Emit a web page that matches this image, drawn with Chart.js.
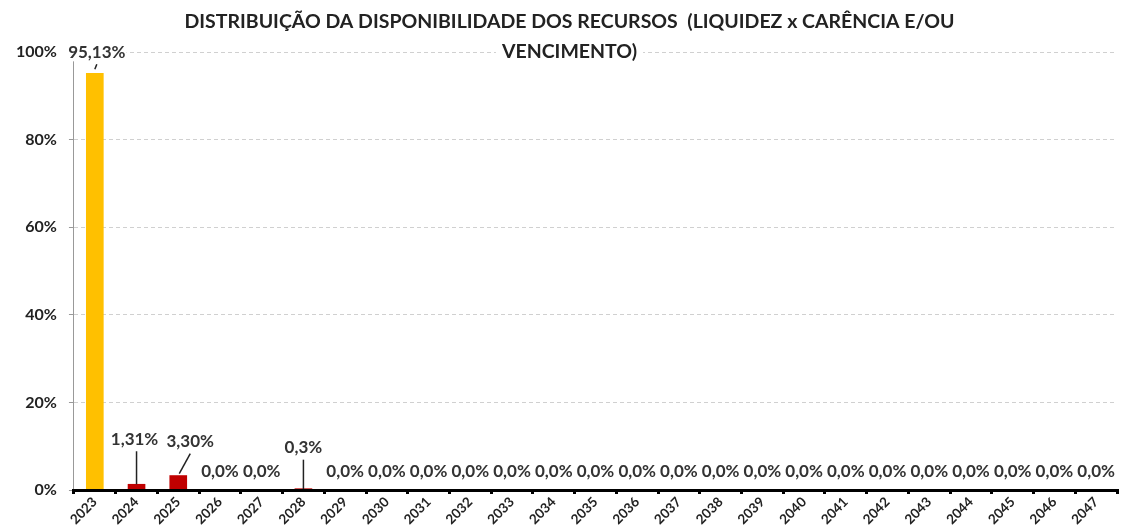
<!DOCTYPE html>
<html>
<head>
<meta charset="utf-8">
<script src="https://cdn.jsdelivr.net/npm/chart.js@4"></script>
<style>
  html, body { margin: 0; padding: 0; background: #fff; }
  #wrap { width: 1121px; height: 532px; position: relative; }
</style>
</head>
<body>
<div id="wrap"><canvas id="chart"></canvas></div>
<script>
const anos = ['2023', '2024', '2025', '2026', '2027', '2028', '2029', '2030', '2031', '2032',
    '2033', '2034', '2035', '2036', '2037', '2038', '2039', '2040', '2041', '2042',
    '2043', '2044', '2045', '2046', '2047'];
const percentuais = [95.13, 1.31, 3.30, 0, 0, 0.3, 0, 0, 0, 0,
    0, 0, 0, 0, 0, 0, 0, 0, 0, 0,
    0, 0, 0, 0, 0];
const rotulos = ['95,13%', '1,31%', '3,30%', '0,0%', '0,0%', '0,3%', '0,0%', '0,0%', '0,0%', '0,0%',
    '0,0%', '0,0%', '0,0%', '0,0%', '0,0%', '0,0%', '0,0%', '0,0%', '0,0%', '0,0%',
    '0,0%', '0,0%', '0,0%', '0,0%', '0,0%'];
const titulo = ['DISTRIBUIÇÃO DA DISPONIBILIDADE DOS RECURSOS  (LIQUIDEZ x CARÊNCIA E/OU', 'VENCIMENTO)'];

const cores = anos.map((a, i) => i === 0 ? '#FFC000' : '#C00000');

// label offsets (px) relative to the top of each bar, plus leader lines
const ajustes = {
    0: { dx: 2, dy: -21, linha: [[2, -9], [0, -4]] },
    1: { dx: -2, dy: -45, linha: [[0, -33], [0, 0]] },
    2: { dx: 12, dy: -34, linha: [[12, -22], [1, -2]] },
    5: { dx: 0, dy: -41, linha: [[0, -29], [0, 1]] }
};

const FONTE = 'Lato, "Open Sans", sans-serif';

const rotulosPlugin = {
    id: 'rotulos',
    afterDatasetsDraw(chart) {
        const ctx = chart.ctx;
        const meta = chart.getDatasetMeta(0);
        ctx.save();
        ctx.font = 'bold 17px ' + FONTE;
        ctx.textAlign = 'center';
        ctx.textBaseline = 'middle';
        meta.data.forEach((bar, i) => {
            const aj = ajustes[i] || { dx: 0, dy: -18 };
            const x = bar.x + aj.dx;
            const y = bar.y + aj.dy;
            if (aj.linha) {
                ctx.strokeStyle = '#222';
                ctx.lineWidth = 1.5;
                ctx.beginPath();
                ctx.moveTo(bar.x + aj.linha[0][0], bar.y + aj.linha[0][1]);
                ctx.lineTo(bar.x + aj.linha[1][0], bar.y + aj.linha[1][1]);
                ctx.stroke();
            }
            const w = ctx.measureText(rotulos[i]).width;
            ctx.fillStyle = '#fff';
            ctx.fillRect(x - w / 2 - 1, y - 9, w + 2, 18);
            ctx.fillStyle = '#333';
            ctx.fillText(rotulos[i], x, y);
        });
        ctx.restore();
    }
};

const tituloPlugin = {
    id: 'titulo',
    afterDraw(chart) {
        const ctx = chart.ctx;
        ctx.save();
        ctx.font = 'bold 19.5px ' + FONTE;
        ctx.textAlign = 'center';
        ctx.textBaseline = 'middle';
        const cx = chart.width / 2 + 9;
        titulo.forEach((t, i) => {
            const y = 22 + i * 30;
            const w = ctx.measureText(t).width;
            ctx.fillStyle = '#fff';
            ctx.fillRect(cx - w / 2 - 6, y - 11, w + 12, 22);
            ctx.fillStyle = '#222';
            ctx.fillText(t, cx, y);
        });
        ctx.restore();
    }
};

new Chart(document.getElementById('chart'), {
    type: 'bar',
    data: {
        labels: anos,
        datasets: [{
            data: percentuais,
            backgroundColor: cores,
            borderWidth: 0,
            barThickness: 17
        }]
    },
    options: {
        responsive: true,
        maintainAspectRatio: false,
        animation: false,
        layout: { padding: { top: 52, left: 4, right: 4, bottom: 0 } },
        plugins: {
            legend: { display: false },
            title: { display: false },
            tooltip: { enabled: false }
        },
        scales: {
            x: {
                border: { color: '#000', width: 3, z: 1 },
                grid: { display: true, drawOnChartArea: false, color: '#000', lineWidth: 3, tickLength: 4, offset: true, z: 1 },
                ticks: {
                    minRotation: 45, maxRotation: 45, padding: 0,
                    color: '#222',
                    font: { family: FONTE, size: 13.5, weight: 'bold' }
                },
                afterFit(s) { s.height = 42; }
            },
            y: {
                min: 0, max: 100,
                border: { color: '#999', width: 1, dash: [4, 3] },
                grid: { color: '#d0d0d0', lineWidth: 1, tickLength: 5, tickColor: '#999', tickBorderDash: [] },
                ticks: {
                    stepSize: 20, padding: 12,
                    color: '#222',
                    font: { family: FONTE, size: 16, weight: 'bold' },
                    callback: v => v + '%'
                }
            }
        }
    },
    plugins: [rotulosPlugin, tituloPlugin]
});
</script>
</body>
</html>
